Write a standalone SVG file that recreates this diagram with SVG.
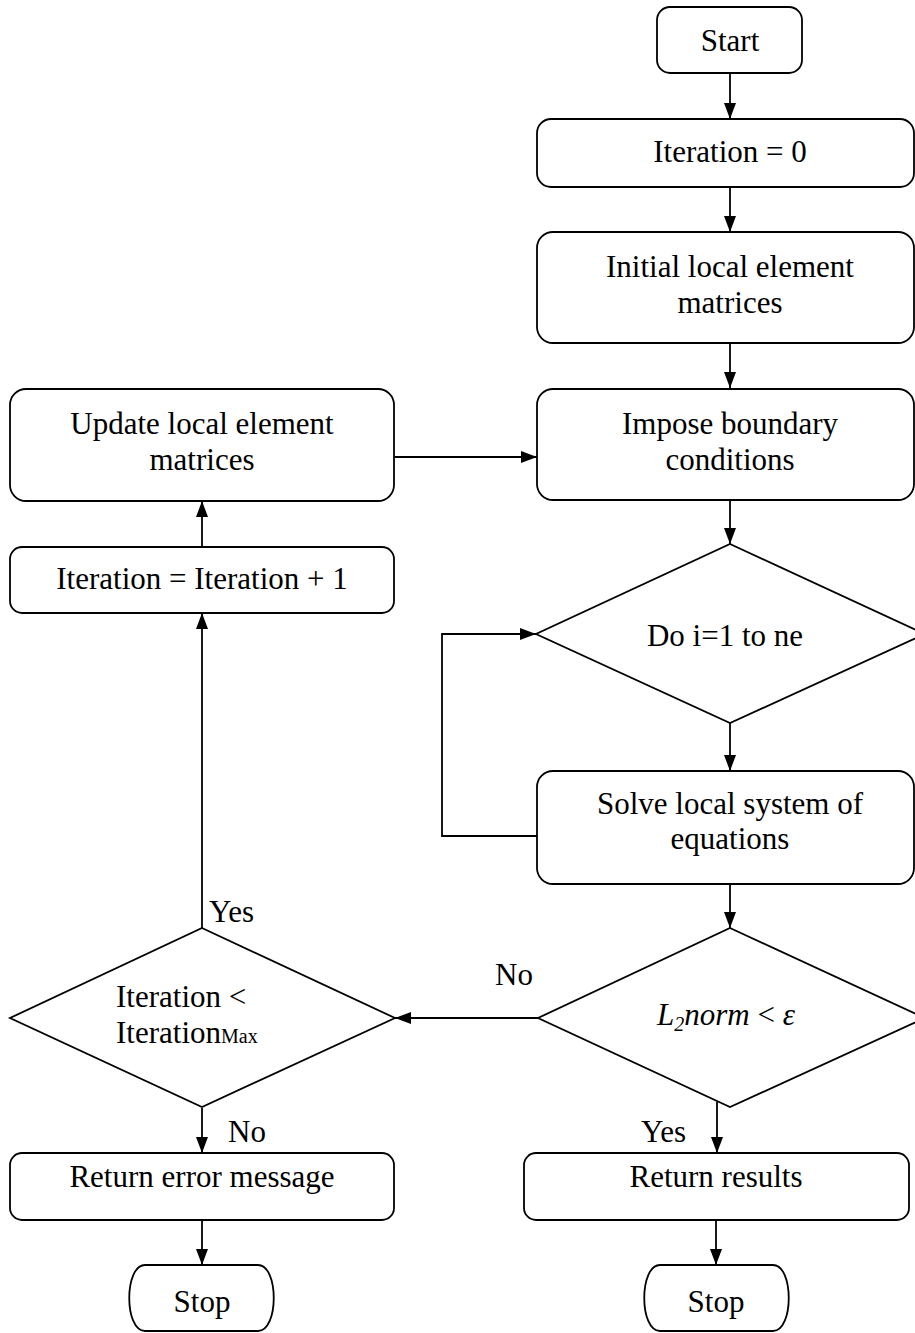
<svg xmlns="http://www.w3.org/2000/svg" width="915" height="1333" viewBox="0 0 915 1333">
<style>
.box{fill:#fff;stroke:#000;stroke-width:1.8}
.t{font-family:"Liberation Serif","Times New Roman",serif;font-size:31px;fill:#000;text-anchor:middle}
.l{font-family:"Liberation Serif","Times New Roman",serif;font-size:31px;fill:#000}
.c{fill:none;stroke:#000;stroke-width:1.8}
</style>
<defs>
<marker id="ah" viewBox="0 0 16 12" refX="16" refY="6" markerWidth="16" markerHeight="12" markerUnits="userSpaceOnUse" orient="auto">
<path d="M0,0 L16,6 L0,12 Z" fill="#000"/>
</marker>
</defs>
<g id="connectors">
<path class="c" d="M730,73 V119" marker-end="url(#ah)"/>
<path class="c" d="M730,187 V232" marker-end="url(#ah)"/>
<path class="c" d="M730,343 V388" marker-end="url(#ah)"/>
<path class="c" d="M730,499 V544" marker-end="url(#ah)"/>
<path class="c" d="M730,723 V771" marker-end="url(#ah)"/>
<path class="c" d="M537,836 H442 V634 H536" marker-end="url(#ah)"/>
<path class="c" d="M730,884 V928" marker-end="url(#ah)"/>
<path class="c" d="M538,1018 H395" marker-end="url(#ah)"/>
<path class="c" d="M717,1102 V1153" marker-end="url(#ah)"/>
<path class="c" d="M202,1108 V1153" marker-end="url(#ah)"/>
<path class="c" d="M716,1220 V1265" marker-end="url(#ah)"/>
<path class="c" d="M202,1220 V1265" marker-end="url(#ah)"/>
<path class="c" d="M202,928 V613" marker-end="url(#ah)"/>
<path class="c" d="M202,547 V501" marker-end="url(#ah)"/>
<path class="c" d="M394,457 H537" marker-end="url(#ah)"/>
<text class="l" x="209" y="922">Yes</text>
<text class="l" x="495" y="985">No</text>
<text class="l" x="228" y="1142">No</text>
<text class="l" x="641" y="1142">Yes</text>
</g>
<g id="start">
<rect class="box" x="657" y="7" width="145" height="66" rx="13"/>
<text class="t" x="730" y="51">Start</text>
</g>
<g id="iter0">
<rect class="box" x="537" y="119" width="377" height="68" rx="14"/>
<text class="t" x="730" y="162">Iteration = 0</text>
</g>
<g id="initial">
<rect class="box" x="537" y="232" width="377" height="111" rx="16"/>
<text class="t" x="730" y="277">Initial local element</text>
<text class="t" x="730" y="313">matrices</text>
</g>
<g id="impose">
<rect class="box" x="537" y="389" width="377" height="111" rx="16"/>
<text class="t" x="730" y="434">Impose boundary</text>
<text class="t" x="730" y="470">conditions</text>
</g>
<g id="doloop">
<polygon class="box" points="730,544 925,634 730,723 536,634"/>
<text class="t" x="725" y="646">Do i=1 to ne</text>
</g>
<g id="solve">
<rect class="box" x="537" y="771" width="377" height="113" rx="16"/>
<text class="t" x="730" y="814">Solve local system of</text>
<text class="t" x="730" y="849">equations</text>
</g>
<g id="l2norm">
<polygon class="box" points="730,928 925,1018 730,1107 538,1018"/>
<text class="t" x="726" y="1025"><tspan font-style="italic">L</tspan><tspan font-style="italic" font-size="20" dy="6">2</tspan><tspan font-style="italic" dy="-6">norm</tspan> &lt; <tspan font-style="italic">ε</tspan></text>
</g>
<g id="itercheck">
<polygon class="box" points="202,928 395,1018 202,1107 10,1018"/>
<text class="l" x="116" y="1007">Iteration &lt;</text>
<text class="l" x="116" y="1043">Iteration<tspan font-size="20">Max</tspan></text>
</g>
<g id="update">
<rect class="box" x="10" y="389" width="384" height="112" rx="16"/>
<text class="t" x="202" y="434">Update local element</text>
<text class="t" x="202" y="470">matrices</text>
</g>
<g id="iterinc">
<rect class="box" x="10" y="547" width="384" height="66" rx="12"/>
<text class="t" x="202" y="589">Iteration = Iteration + 1</text>
</g>
<g id="results">
<rect class="box" x="524" y="1153" width="385" height="67" rx="12"/>
<text class="t" x="716" y="1187">Return results</text>
</g>
<g id="error">
<rect class="box" x="10" y="1153" width="384" height="67" rx="12"/>
<text class="t" x="202" y="1187">Return error message</text>
</g>
<g id="stop1">
<path class="box" d="M145,1265 H258 C279,1265 279,1331 258,1331 H145 C124,1331 124,1265 145,1265 Z"/>
<text class="t" x="202" y="1312">Stop</text>
</g>
<g id="stop2">
<path class="box" d="M660,1265 H773 C794,1265 794,1331 773,1331 H660 C639,1331 639,1265 660,1265 Z"/>
<text class="t" x="716" y="1312">Stop</text>
</g>
</svg>
